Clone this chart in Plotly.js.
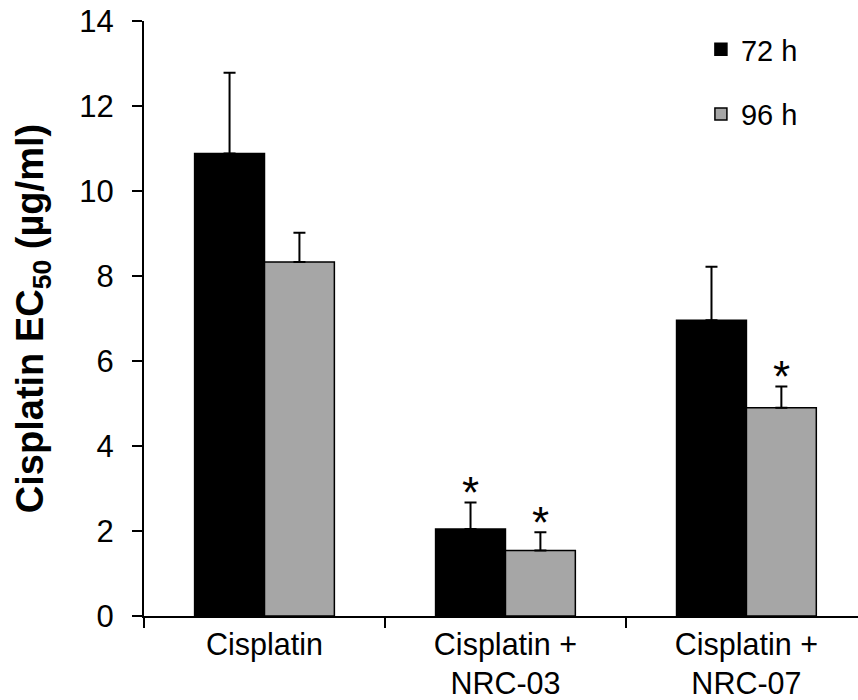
<!DOCTYPE html>
<html>
<head>
<meta charset="utf-8">
<script src="https://cdn.plot.ly/plotly-3.0.1.min.js"></script>
<style>html,body{margin:0;padding:0;background:#fff;}#chart{width:858px;height:700px;}</style>
</head>
<body>
<div id="chart"></div>
<script>
const categories = ["Cisplatin", "Cisplatin +<br>NRC-03", "Cisplatin +<br>NRC-07"];
const seriesNames = ["72 h", "96 h"];
const values72 = [10.88, 2.05, 6.96];
const errors72 = [1.90, 0.62, 1.26];
const values96 = [8.33, 1.54, 4.90];
const errors96 = [0.69, 0.43, 0.50];
const significant72 = [false, true, false];
const significant96 = [false, true, true];
const yTicks = [0, 2, 4, 6, 8, 10, 12, 14];

const FONT = "Liberation Sans, Arial, sans-serif";
const barOffset = 0.145;

function barTrace(name, vals, errs, color, group) {
  return {
    type: "bar", name: name, x: categories, y: vals,
    marker: {color: color, line: {color: "#000", width: 1.5}},
    error_y: {type: "data", symmetric: false, array: errs, arrayminus: errs.map(() => 0),
              color: "#000", thickness: 2, width: 6},
    legendgroup: group, hoverinfo: "none"
  };
}

const traces = [
  barTrace(seriesNames[0], values72, errors72, "#000000", "a"),
  barTrace(seriesNames[1], values96, errors96, "#a6a6a6", "b")
];

const annotations = [];
function stars(vals, errs, sig, dx) {
  vals.forEach((v, i) => {
    if (sig[i]) annotations.push({
      xref: "x", yref: "y", x: i + dx, y: v + errs[i], text: "*",
      showarrow: false, yanchor: "middle", yshift: 10,
      font: {family: FONT, size: 44, color: "#000"}
    });
  });
}
stars(values72, errors72, significant72, -barOffset);
stars(values96, errors96, significant96, barOffset);

const layout = {
  width: 858, height: 700,
  margin: {l: 144, r: 0, t: 21, b: 84},
  paper_bgcolor: "#fff", plot_bgcolor: "#fff",
  barmode: "group", bargap: 0.42, bargroupgap: 0,
  font: {family: FONT, color: "#000"},
  showlegend: true,
  legend: {x: 0.78, y: 0.995, xanchor: "left", yanchor: "top",
           font: {family: FONT, size: 29, color: "#000"},
           traceorder: "grouped", tracegroupgap: 24, bgcolor: "rgba(0,0,0,0)"},
  xaxis: {type: "category", range: [-0.5, 2.463], showline: true, linecolor: "#000", linewidth: 2,
          ticks: "outside", tickson: "boundaries", ticklen: 10, tickwidth: 2, tickcolor: "#000",
          showgrid: false, zeroline: false, fixedrange: true,
          tickfont: {family: FONT, size: 30.5, color: "#000"}},
  yaxis: {range: [0, 14], tickvals: yTicks, showline: true, linecolor: "#000", linewidth: 2,
          ticks: "outside", ticklen: 10, tickwidth: 2, tickcolor: "#000", ticklabelstandoff: 12,
          showgrid: false, zeroline: false, fixedrange: true,
          tickfont: {family: FONT, size: 31, color: "#000"},
          title: {text: "<b>Cisplatin EC<sub>50</sub> (µg/ml)</b>", standoff: 24,
                  font: {family: FONT, size: 38, color: "#000"}}},
  annotations: annotations
};

Plotly.newPlot("chart", traces, layout, {displayModeBar: false, staticPlot: true});
</script>
</body>
</html>
